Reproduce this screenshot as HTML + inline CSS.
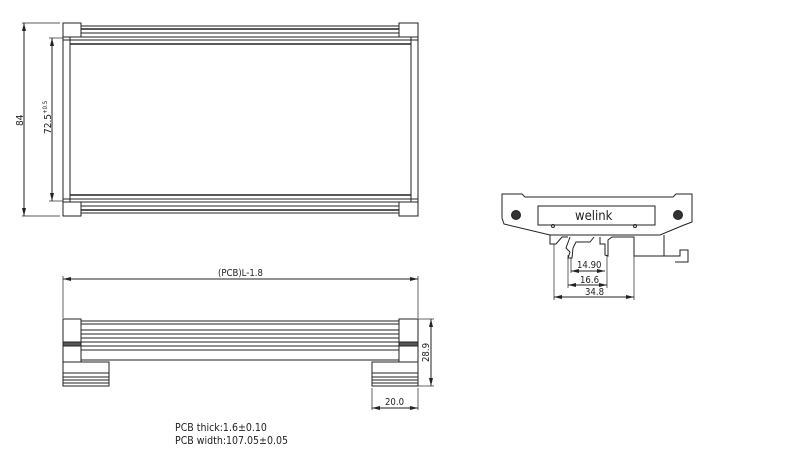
<!DOCTYPE html>
<html><head><style>
body{margin:0;background:#fff;width:800px;height:464px;overflow:hidden}
svg{display:block}
text{font-family:"DejaVu Sans Condensed","Liberation Sans",sans-serif;fill:#222}
</style></head><body>
<svg width="800" height="464" viewBox="0 0 800 464" stroke="#222" stroke-width="1" fill="none">
<defs><marker id="a" markerWidth="8" markerHeight="6" refX="8" refY="3" orient="auto-start-reverse"><path d="M0,1 L8,3 L0,5" fill="#222" stroke="none"/></marker></defs>
<!-- top view -->
<rect x="63" y="23" width="18" height="14"/><rect x="399" y="23" width="19" height="14"/>
<rect x="63" y="202" width="18" height="14"/><rect x="399" y="202" width="19" height="14"/>
<line x1="81" y1="26" x2="399" y2="26"/><line x1="81" y1="29" x2="399" y2="29" stroke-width="1.5"/><line x1="81" y1="33" x2="399" y2="33"/>
<line x1="81" y1="206" x2="399" y2="206"/><line x1="81" y1="210" x2="399" y2="210" stroke-width="1.5"/><line x1="81" y1="213" x2="399" y2="213"/>
<rect x="63" y="37" width="355" height="165"/>
<line x1="70" y1="37" x2="70" y2="202"/><line x1="411" y1="37" x2="411" y2="202"/>
<line x1="63" y1="40" x2="418" y2="40"/><line x1="70" y1="44" x2="411" y2="44" stroke-width="1.5"/>
<line x1="70" y1="195" x2="411" y2="195" stroke-width="1.5"/><line x1="63" y1="199" x2="418" y2="199"/>
<line x1="22" y1="23" x2="60" y2="23" stroke-width=".7"/><line x1="22" y1="216" x2="60" y2="216" stroke-width=".7"/>
<line x1="24" y1="23" x2="24" y2="216" marker-start="url(#a)" marker-end="url(#a)"/>
<line x1="49" y1="38" x2="63" y2="38" stroke-width=".7"/><line x1="49" y1="201" x2="63" y2="201" stroke-width=".7"/>
<line x1="52" y1="38" x2="52" y2="201" marker-start="url(#a)" marker-end="url(#a)"/>
<text x="0" y="0" font-size="10" stroke="none" transform="translate(23,126) rotate(-90)">84</text>
<text x="0" y="0" font-size="10" stroke="none" transform="translate(51,134) rotate(-90)">72.5<tspan font-size="6" dy="-4">+0.5</tspan></text>
<!-- bottom view -->
<line x1="63" y1="276" x2="63" y2="318" stroke-width=".7"/><line x1="418" y1="276" x2="418" y2="318" stroke-width=".7"/>
<line x1="63" y1="279" x2="418" y2="279" marker-start="url(#a)" marker-end="url(#a)"/>
<text x="218" y="276" font-size="9.5" stroke="none">(PCB)L-1.8</text>
<rect x="63" y="319" width="18" height="43"/><rect x="399" y="319" width="19" height="43"/>
<rect x="63" y="342" width="18" height="4" fill="#555"/><rect x="399" y="342" width="19" height="4" fill="#555"/>
<line x1="81" y1="321" x2="399" y2="321"/><line x1="81" y1="324" x2="399" y2="324"/><line x1="81" y1="330" x2="399" y2="330"/><line x1="81" y1="334" x2="399" y2="334"/><line x1="81" y1="338" x2="399" y2="338"/><line x1="81" y1="342" x2="399" y2="342"/><line x1="81" y1="346" x2="399" y2="346"/><line x1="81" y1="350" x2="399" y2="350"/><line x1="81" y1="360" x2="399" y2="360"/>
<rect x="63" y="362" width="46" height="24"/><rect x="372" y="362" width="46" height="24"/>
<line x1="63" y1="373" x2="109" y2="373"/><line x1="63" y1="377" x2="109" y2="377"/><line x1="63" y1="380" x2="109" y2="380"/><line x1="63" y1="383" x2="109" y2="383"/>
<line x1="372" y1="373" x2="418" y2="373"/><line x1="372" y1="377" x2="418" y2="377"/><line x1="372" y1="380" x2="418" y2="380"/><line x1="372" y1="383" x2="418" y2="383"/>
<line x1="418" y1="319" x2="434" y2="319" stroke-width=".7"/><line x1="418" y1="386" x2="434" y2="386" stroke-width=".7"/>
<line x1="431" y1="319" x2="431" y2="386" marker-start="url(#a)" marker-end="url(#a)"/>
<text font-size="9.5" stroke="none" transform="translate(429,362) rotate(-90)">28.9</text>
<line x1="372" y1="388" x2="372" y2="410" stroke-width=".7"/><line x1="418" y1="388" x2="418" y2="410" stroke-width=".7"/>
<line x1="372" y1="408" x2="418" y2="408" marker-start="url(#a)" marker-end="url(#a)"/>
<text x="385" y="405" font-size="9.5" stroke="none">20.0</text>
<text x="175" y="431" font-size="10.5" stroke="none">PCB thick:1.6±0.10</text>
<text x="175" y="444" font-size="10.5" stroke="none">PCB width:107.05±0.05</text>
<!-- side view -->
<path d="M502,194 L522,194 L525,197 L673,197 L676,194 L692,194 L692,222 L684,225 L660,235 L550,235 L504,224 L502,218 Z"/>
<rect x="538" y="206" width="117" height="19"/>
<text x="575" y="220" font-size="13" stroke="none" font-family="Liberation Sans">welink</text>
<circle cx="516" cy="215" r="4.5" fill="#333"/><circle cx="678" cy="215" r="4.5" fill="#333"/>
<circle cx="553" cy="226" r="1.5"/><circle cx="635" cy="226" r="1.5"/>
<path d="M550,235 L550,244 L556,244 L562,237 L568,237 M570,237 L566,248 L570,252 L568,258 L572,258 L573,248 L576,242 L590,242 L594,237 M600,237 L600,244 L605,244 L605,255 L608,256 L608,240 L612,237 L634,237 L634,256 L664,256 L664,235 M634,256 L680,256 L680,250 L688,250 L688,256 L688,262 L675,262"/>
<line x1="554" y1="244" x2="554" y2="300" stroke-width=".7"/><line x1="634" y1="256" x2="634" y2="300" stroke-width=".7"/>
<line x1="568" y1="255" x2="568" y2="288" stroke-width=".7"/><line x1="607" y1="255" x2="607" y2="288" stroke-width=".7"/>
<line x1="571" y1="258" x2="571" y2="273" stroke-width=".7"/>
<line x1="571" y1="271" x2="605" y2="271" marker-start="url(#a)" marker-end="url(#a)"/>
<text x="577" y="268" font-size="9.5" stroke="none">14.90</text>
<line x1="568" y1="285" x2="607" y2="285" marker-start="url(#a)" marker-end="url(#a)"/>
<text x="580" y="283" font-size="9.5" stroke="none">16.6</text>
<line x1="554" y1="297" x2="634" y2="297" marker-start="url(#a)" marker-end="url(#a)"/>
<text x="585" y="295" font-size="9.5" stroke="none">34.8</text>
</svg>
</body></html>
